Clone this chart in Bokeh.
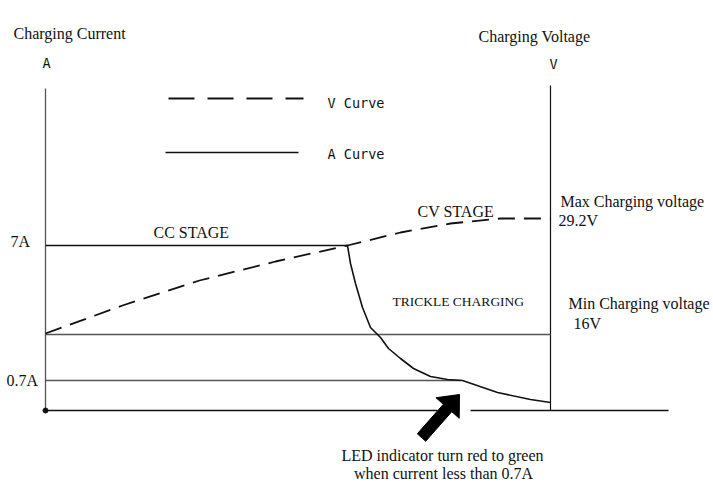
import numpy as np
from bokeh.plotting import figure
from bokeh.models import Range1d
from bokeh.embed import file_html
from bokeh.resources import INLINE
from bokeh.core.properties import value

# ---- diagram data (x to the right, y downward, in diagram units) ----
# A curve (charging current): CC stage flat, then drop during CV / trickle charging
a_curve_x = [45, 347, 350, 355, 362, 370, 380, 388, 400, 413, 430, 447, 462, 497, 530, 550]
a_curve_y = [245, 245, 263, 283, 307, 327, 337, 348, 358, 368, 376, 379, 380, 392, 399, 402]

# V curve (charging voltage): rises from min (16V) to max (29.2V)
v_curve_x = [45, 122, 199, 275, 347, 400, 450, 500, 550]
v_curve_y = [333, 305, 280, 261, 245, 232, 223, 218, 218]

# reference levels
level_names = ["16V", "0.7A"]
level_y = [334, 380]
level_x_end = [550, 460]

axis_left_x = 45
axis_right_x = 550
axis_top = [88, 85]
baseline_y = 410
baseline_segments_x = [[45, 437], [470, 668]]

# legend
legend_labels = ["V Curve", "A Curve"]
legend_y = [98, 152]
legend_x0 = [168, 165]
legend_x1 = [303, 298]
legend_text_x = 327
legend_text_y = [107, 158]

# arrow
arrow_tip = (459, 394)
arrow_tail = (421, 437)

# texts (serif)
serif_texts = ["Charging Current", "Charging Voltage", "7A", "0.7A", "CC STAGE", "CV STAGE",
               "Max Charging voltage", "29.2V", "Min Charging voltage", "16V"]
serif_x = [13, 478, 10, 6, 153, 417, 560, 558, 568, 573]
serif_y = [38, 41, 246, 385, 237, 216, 206, 225, 308, 328]

note_lines = ["LED indicator turn red to green", "when current less than 0.7A"]
note_x = [442, 443]
note_y = [460, 478]

unit_labels = ["A", "V"]
unit_x = [46, 553]
unit_y = [67, 68]

# ---- figure ----
p = figure(width=713, height=487, x_range=Range1d(0, 713), y_range=Range1d(487, 0),
           output_backend="svg", toolbar_location=None, x_axis_type=None, y_axis_type=None,
           min_border=0, outline_line_color=None, title=None)
p.grid.visible = False
p.background_fill_color = "white"
p.border_fill_color = "white"

INK = "#111111"
GRAY = "#555555"
TXT_OFF = -5

# axes lines
p.segment(x0=[axis_left_x, axis_right_x], y0=axis_top, x1=[axis_left_x, axis_right_x],
          y1=[baseline_y, baseline_y], line_color=[GRAY, INK], line_width=[1.3, 1.2])
p.multi_line(xs=baseline_segments_x, ys=[[baseline_y, baseline_y]] * len(baseline_segments_x),
             line_color=INK, line_width=1.5)
p.scatter(x=[axis_left_x], y=[baseline_y], size=5, color=INK)

# level lines
p.segment(x0=[axis_left_x] * len(level_y), y0=level_y, x1=level_x_end, y1=level_y,
          line_color=GRAY, line_width=1.3)

# curves
p.line(v_curve_x, v_curve_y, line_color=INK, line_width=1.8, line_dash="17 9")
p.line(a_curve_x, a_curve_y, line_color=INK, line_width=1.6)

# legend
p.segment(x0=[legend_x0[0]], y0=[legend_y[0]], x1=[legend_x1[0]], y1=[legend_y[0]],
          line_color=INK, line_width=2, line_dash="26 13")
p.segment(x0=[legend_x0[1]], y0=[legend_y[1]], x1=[legend_x1[1]], y1=[legend_y[1]],
          line_color=INK, line_width=1.6)
p.text(x=[legend_text_x] * 2, y=legend_text_y, text=legend_labels,
       text_font=value("DejaVu Sans Mono"), text_font_size="13.5px", text_color=INK,
       text_align="left", text_baseline="alphabetic", y_offset=TXT_OFF)
p.text(x=unit_x, y=unit_y, text=unit_labels,
       text_font=value("DejaVu Sans Mono"), text_font_size="13.5px", text_color=INK,
       text_align="center", text_baseline="alphabetic", y_offset=TXT_OFF)

# arrow polygon
tip = np.array(arrow_tip, dtype=float)
tail = np.array(arrow_tail, dtype=float)
d = tip - tail
L = np.hypot(*d)
u = d / L
n = np.array([-u[1], u[0]])
head_len, head_half, shaft_half = 18.0, 15.5, 5.6
base = tip - u * head_len
pts = [tail + n * shaft_half, base + n * shaft_half, base + n * head_half, tip,
       base - n * head_half, base - n * shaft_half, tail - n * shaft_half]
p.patch([q[0] for q in pts], [q[1] for q in pts], fill_color="black", line_color="black", line_width=1)

# serif texts
p.text(x=serif_x, y=serif_y, text=serif_texts, text_font=value("Liberation Serif"),
       text_font_size="16px", text_color=INK, text_align="left", text_baseline="alphabetic",
       y_offset=TXT_OFF)
p.text(x=[392], y=[306], text=["TRICKLE CHARGING"], text_font=value("Liberation Serif"),
       text_font_size="13.5px", text_color=INK, text_align="left", text_baseline="alphabetic",
       y_offset=TXT_OFF)
p.text(x=note_x, y=note_y, text=note_lines, text_font=value("Liberation Serif"),
       text_font_size="16px", text_color=INK, text_align="center", text_baseline="alphabetic",
       y_offset=TXT_OFF)

open("out.html", "w").write(file_html(p, INLINE))
